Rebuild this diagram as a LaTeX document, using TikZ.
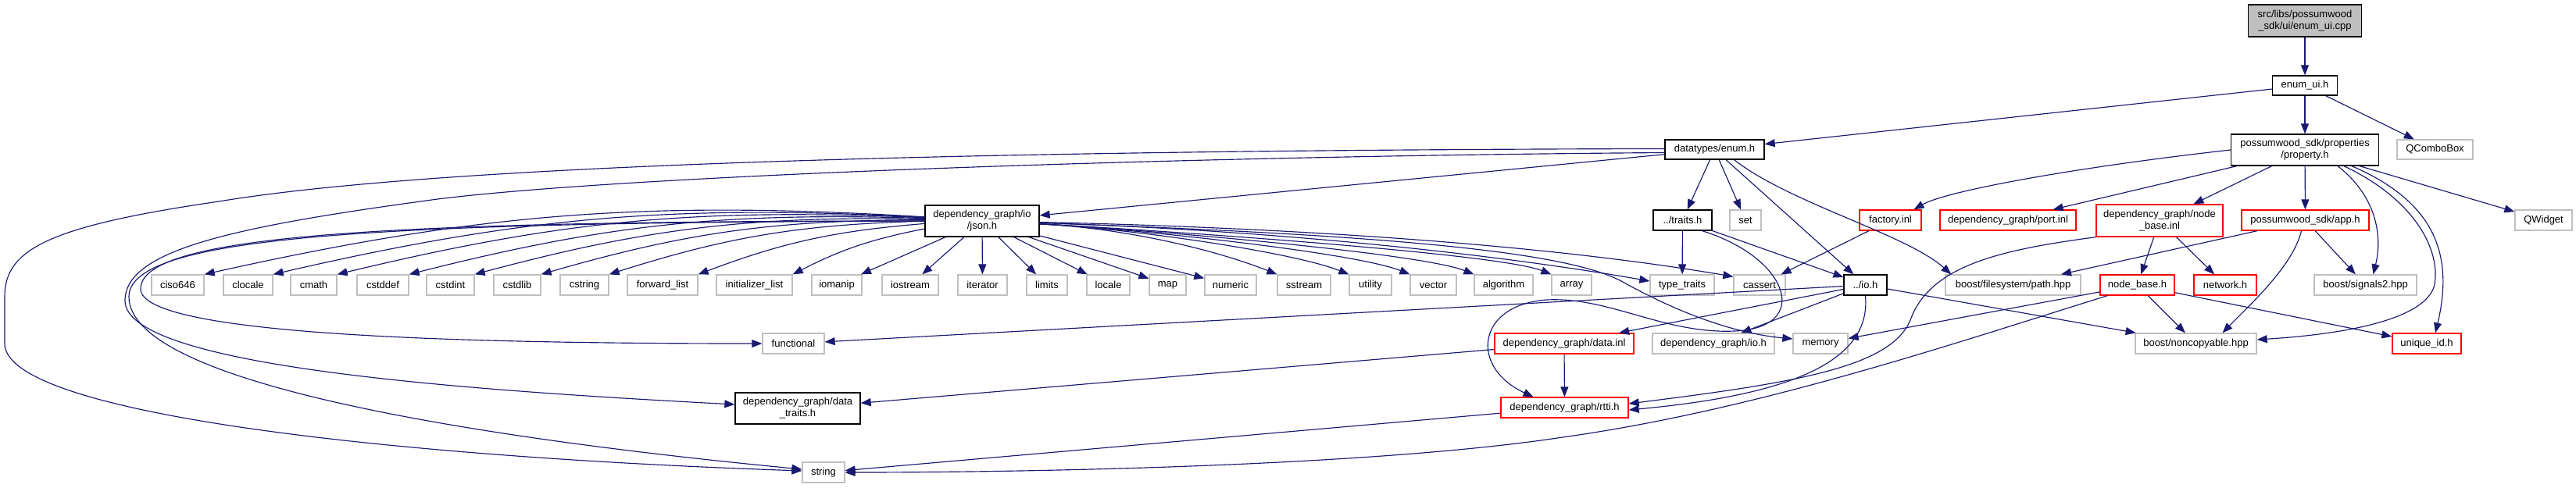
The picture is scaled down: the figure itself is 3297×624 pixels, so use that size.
\documentclass[tikz,border=0pt]{standalone}
\usepackage{fontspec}
\setmainfont{Liberation Sans}
\usetikzlibrary{arrows.meta,calc}
\definecolor{edgec}{HTML}{191970}
\definecolor{grayb}{HTML}{BFBFBF}
\definecolor{redb}{HTML}{FF0000}
\begin{document}
\begin{tikzpicture}[x=1pt,y=-1pt,
  every node/.style={font=\fontsize{13}{15}\selectfont, inner sep=0pt, align=center},
  blk/.style={draw=black, line width=1.3pt, fill=white},
  top/.style={draw=black, line width=1.3pt, fill=grayb},
  sys/.style={draw=grayb, line width=1.3pt, fill=white},
  trunc/.style={draw=redb, line width=1.3pt, fill=white},
  dep/.style={draw=edgec, line width=1.15pt, -{Triangle[length=13pt,width=10pt]}}
]
\useasboundingbox (0,0) rectangle (3297,624);

% top
\node[top, minimum width=145pt, minimum height=41pt] (cpp) at (2950,26.5) {src/libs/possumwood\\\_sdk/ui/enum\_ui.cpp};
\node[blk, minimum width=83pt, minimum height=25pt] (uih) at (2950,109.5) {enum\_ui.h};
\node[blk, minimum width=127pt, minimum height=25pt] (enumh) at (2194.5,191.5) {datatypes/enum.h};
\node[blk, minimum width=189pt, minimum height=40pt] (prop) at (2950,192) {possumwood\_sdk/properties\\/property.h};
\node[sys, minimum width=97pt, minimum height=25pt] (qcombo) at (3116.5,191.5) {QComboBox};

% row 2
\node[blk, minimum width=146pt, minimum height=40pt] (json) at (1257,283) {dependency\_graph/io\\/json.h};
\node[blk, minimum width=75pt, minimum height=26pt] (traits) at (2153.5,282) {../traits.h};
\node[sys, minimum width=40pt, minimum height=26pt] (set) at (2234,282) {set};
\node[trunc, minimum width=79pt, minimum height=26pt] (factory) at (2419.5,282) {factory.inl};
\node[trunc, minimum width=174pt, minimum height=26pt] (port) at (2570,282) {dependency\_graph/port.inl};
\node[trunc, minimum width=162pt, minimum height=41pt] (nbinl) at (2764,282.5) {dependency\_graph/node\\\_base.inl};
\node[trunc, minimum width=163pt, minimum height=26pt] (app) at (2950.5,282) {possumwood\_sdk/app.h};
\node[sys, minimum width=73pt, minimum height=26pt] (qwidget) at (3255.5,282) {QWidget};

% row 3
\begin{scope}[every node/.append style={minimum height=26pt}]
\node[sys, minimum width=67pt] (ciso) at (227.5,365) {ciso646};
\node[sys, minimum width=63pt] (clocale) at (317.5,365) {clocale};
\node[sys, minimum width=59pt] (cmath) at (401.5,365) {cmath};
\node[sys, minimum width=66pt] (cstddef) at (490,365) {cstddef};
\node[sys, minimum width=61pt] (cstdint) at (576.5,365) {cstdint};
\node[sys, minimum width=60pt] (cstdlib) at (662,365) {cstdlib};
\node[sys, minimum width=62pt] (cstring) at (748,365) {cstring};
\node[sys, minimum width=90pt] (fwdlist) at (848,365) {forward\_list};
\node[sys, minimum width=97pt] (initlist) at (965.5,365) {initializer\_list};
\node[sys, minimum width=64pt] (iomanip) at (1071,365) {iomanip};
\node[sys, minimum width=72pt] (iostream) at (1165,365) {iostream};
\node[sys, minimum width=63pt] (iterator) at (1257.5,365) {iterator};
\node[sys, minimum width=52pt] (limits) at (1340,365) {limits};
\node[sys, minimum width=55pt] (locale) at (1418.5,365) {locale};
\node[sys, minimum width=47pt] (map) at (1494.5,365) {map};
\node[sys, minimum width=66pt] (numeric) at (1575,365) {numeric};
\node[sys, minimum width=68pt] (sstream) at (1669,365) {sstream};
\node[sys, minimum width=54pt] (utility) at (1754,365) {utility};
\node[sys, minimum width=59pt] (vector) at (1834.5,365) {vector};
\node[sys, minimum width=75pt] (algorithm) at (1924.5,365) {algorithm};
\node[sys, minimum width=51pt] (array) at (2011.5,365) {array};
\node[sys, minimum width=82pt] (typetraits) at (2153,365) {type\_traits};
\node[sys, minimum width=66pt] (cassert) at (2252,365) {cassert};
\node[blk, minimum width=55pt] (ioh) at (2387.5,365) {../io.h};
\node[sys, minimum width=173pt] (path) at (2576.5,365) {boost/filesystem/path.hpp};
\node[trunc, minimum width=95pt] (nbh) at (2735.5,365) {node\_base.h};
\node[trunc, minimum width=80pt] (network) at (2848,365) {network.h};
\node[sys, minimum width=131pt] (signals) at (3027.5,365) {boost/signals2.hpp};

% row 4
\node[sys, minimum width=79pt] (functional) at (1015.5,440) {functional};
\node[trunc, minimum width=178pt] (datainl) at (2002,440) {dependency\_graph/data.inl};
\node[sys, minimum width=156pt] (dgio) at (2193,440) {dependency\_graph/io.h};
\node[sys, minimum width=70pt] (memory) at (2330,440) {memory};
\node[sys, minimum width=155pt] (noncopy) at (2810.5,440) {boost/noncopyable.hpp};
\node[trunc, minimum width=88pt] (uniqueid) at (3106,440) {unique\_id.h};

% row 5
\node[trunc, minimum width=163pt] (rtti) at (2002.5,522) {dependency\_graph/rtti.h};
\node[sys, minimum width=54pt] (string) at (1054,605) {string};
\end{scope}
\node[blk, minimum width=160pt, minimum height=40pt] (datatraits) at (1021,523) {dependency\_graph/data\\\_traits.h};

% edges from top
\draw[dep] (cpp) -- (uih);
\draw[dep] (uih) -- (enumh);
\draw[dep] (uih) -- (prop);
\draw[dep] (uih) -- (qcombo);

% enum.h
\draw[dep] (enumh) -- (json);
\draw[dep] (enumh) -- (traits);
\draw[dep] (enumh) -- (set);
\draw[dep] (enumh) -- (ioh);
\draw[dep] ($(enumh.south)+(25,0)$) .. controls (2290,260) and (2440,300) .. ($(path.north west)+(8,0)$);
\draw[dep] ($(enumh.west)+(0,-1)$) .. controls (1400,192) and (600,205) .. (280,258) .. controls (60,290) and (6,320) .. (6,380) -- (6,440) .. controls (6,530) and (500,585) .. ($(string.west)+(0,-2)$);
\draw[dep] ($(enumh.west)+(0,4)$) .. controls (1500,200) and (800,225) .. (560,255) .. controls (300,290) and (160,320) .. (160,385) .. controls (160,470) and (600,500) .. ($(datatraits.west)+(0,-5)$);

% json.h
\foreach \n in {ciso,clocale,cmath,cstddef,cstdint,cstdlib,cstring,fwdlist,initlist}
  \draw[dep] (json) to[bend right=8] (\n.north east);
\foreach \n in {iomanip,iostream,iterator,limits,locale,map,numeric}
  \draw[dep] (json) -- (\n);
\foreach \n in {sstream,utility,vector,algorithm,array}
  \draw[dep] (json) .. controls ($(json.east)+(120,10)$) and ($(\n.north west)+(-70,-28)$) .. (\n.north west);
\draw[dep] (json) .. controls ($(json.east)+(300,12)$) and ($(typetraits.west)+(-200,-40)$) .. ($(typetraits.west)+(0,-5)$);
\draw[dep] (json) .. controls ($(json.east)+(300,8)$) and ($(cassert.north west)+(-250,-40)$) .. ($(cassert.north west)+(0,3)$);
\draw[dep] (json) .. controls (1750,300) and (2000,320) .. (2075,360) .. controls (2120,385) and (2200,425) .. ($(memory.west)+(0,-6)$);
\draw[dep] (json.west) .. controls (500,283) and (180,300) .. (180,370) .. controls (180,430) and (600,440) .. (functional.west);
\draw[dep] (json.west) .. controls (500,285) and (165,300) .. (165,380) .. controls (165,490) and (600,560) .. ($(string.west)+(0,-4)$);

% traits
\draw[dep] (traits) -- (typetraits);
\draw[dep] (traits) -- (ioh);
\draw[dep] ($(traits.south)+(25,0)$) .. controls (2290,330) and (2320,420) .. (2220,424) .. controls (2130,428) and (2060,380) .. (1980,384) .. controls (1890,390) and (1880,470) .. ($(rtti.north)+(-40,0)$);

% factory
\draw[dep] (factory) -- (cassert);

% io.h
\draw[dep] (ioh) -- (functional);
\draw[dep] (ioh) -- (datainl);
\draw[dep] (ioh) -- (dgio);
\draw[dep] (ioh) -- (noncopy);
\draw[dep] (ioh.south) .. controls (2395,460) and (2300,505) .. ($(rtti.east)+(0,3)$);

% data.inl, rtti
\draw[dep] (datainl) -- (rtti);
\draw[dep] (datainl) -- (datatraits);
\draw[dep] (rtti) -- (string);

% node_base.inl
\draw[dep] (nbinl) -- (nbh);
\draw[dep] (nbinl) -- (network);
\draw[dep] (nbinl.south west) .. controls (2560,320) and (2470,340) .. (2445,410) .. controls (2420,470) and (2300,490) .. ($(rtti.east)+(0,-5)$);

% node_base.h
\draw[dep] (nbh) -- (memory);
\draw[dep] (nbh) -- (noncopy);
\draw[dep] (nbh) -- (uniqueid);
\draw[dep] ($(nbh.south west)+(10,0)$) .. controls (2500,440) and (2250,525) .. (2000,560) .. controls (1750,598) and (1300,605) .. (string.east);

% app.h
\draw[dep] (app) -- (path);
\draw[dep] (app) -- (signals);
\draw[dep] ($(app.south)+(-5,0)$) .. controls (2935,340) and (2880,390) .. ($(noncopy.north)+(34,0)$);

% property.h
\draw[dep] (prop.west) .. controls (2650,215) and (2490,245) .. ($(factory.north)+(30,0)$);
\draw[dep] (prop) -- (port);
\draw[dep] (prop) -- (nbinl);
\draw[dep] (prop) -- (app);
\draw[dep] ($(prop.south)+(42,0)$) .. controls (3040,250) and (3050,300) .. ($(signals.north)+(10,0)$);
\draw[dep] ($(prop.south)+(50,0)$) .. controls (3100,260) and (3125,330) .. (3115,368) .. controls (3100,410) and (3000,428) .. ($(noncopy.east)+(0,-5)$);
\draw[dep] ($(prop.south)+(60,0)$) .. controls (3120,260) and (3140,330) .. ($(uniqueid.north)+(11,0)$);
\draw[dep] (prop) -- (qwidget);
\end{tikzpicture}
\end{document}
